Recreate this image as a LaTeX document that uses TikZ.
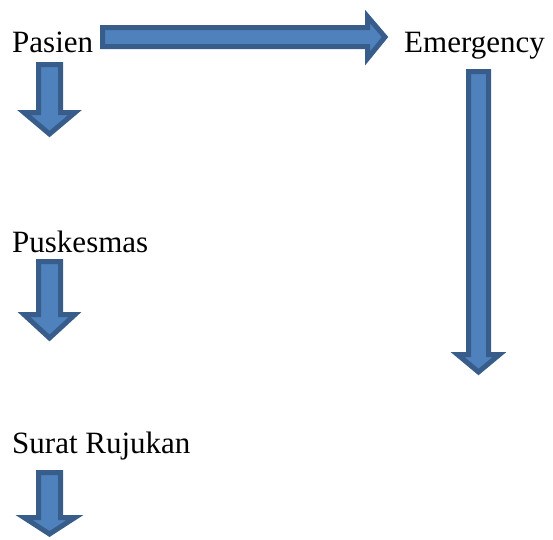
\documentclass[tikz,border=0pt]{standalone}
\usepackage{fontspec}
\setmainfont{Liberation Serif}
\newfontfamily\stepfont{Liberation Serif}
\usetikzlibrary{positioning}

\definecolor{arrowfill}{HTML}{4F81BD}
\definecolor{arrowline}{HTML}{385D8A}

\tikzset{
  steptext/.style={anchor=base west,inner sep=0pt,font=\stepfont\fontsize{31}{37}\selectfont},
  blockarrow/.style={draw=arrowline,fill=arrowfill,line width=5pt,line join=miter}
}

\begin{document}
\begin{tikzpicture}[x=1pt,y=-1pt]
\useasboundingbox (0,0) rectangle (553,539);
\node[steptext] (pasien) at (12,52) {Pasien};
\node[steptext] (emergency) at (404,52) {Emergency};
\node[steptext] (puskesmas) at (12,252) {Puskesmas};
\node[steptext] (surat) at (12,453) {Surat Rujukan};
% Pasien -> Emergency
\draw[blockarrow] (102.5,27.5) -- (367.5,27.5) -- (367.5,16.5) -- (385,37) -- (367.5,58.5) -- (367.5,46.5) -- (102.5,46.5) -- cycle;
% down arrows on the left
\draw[blockarrow] (38.5,64.5) -- (60.5,64.5) -- (60.5,112.5) -- (75,112.5) -- (49.5,134) -- (24,112.5) -- (38.5,112.5) -- cycle;
\draw[blockarrow] (38.5,261.5) -- (60.5,261.5) -- (60.5,314.5) -- (75,314.5) -- (49.5,338) -- (24,314.5) -- (38.5,314.5) -- cycle;
\draw[blockarrow] (38.5,472.5) -- (60.5,472.5) -- (60.5,517.5) -- (75,517.5) -- (49.5,534) -- (24,517.5) -- (38.5,517.5) -- cycle;
% long arrow under Emergency
\draw[blockarrow] (468.5,71.5) -- (488.5,71.5) -- (488.5,354.5) -- (499.5,354.5) -- (478.5,372) -- (457.5,354.5) -- (468.5,354.5) -- cycle;
\end{tikzpicture}
\end{document}
